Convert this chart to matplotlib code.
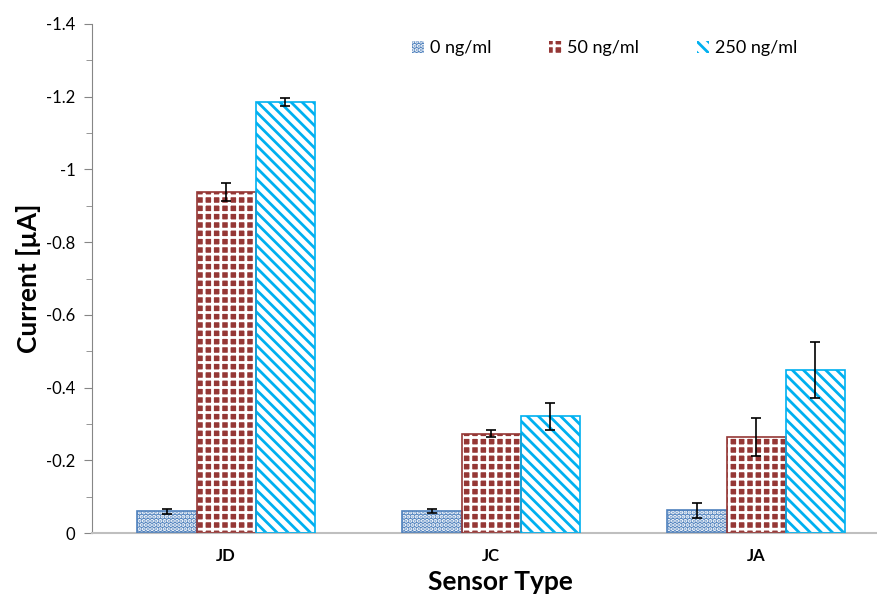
import numpy as np
import matplotlib
matplotlib.use("Agg")
import matplotlib.pyplot as plt
from matplotlib.patches import Patch

plt.rcParams['font.family'] = ['Lato', 'DejaVu Sans']
plt.rcParams['hatch.linewidth'] = 2.0

# data (currents in uA, plotted on an inverted axis)
sensors = ["JD", "JC", "JA"]
series = ["0 ng/ml", "50 ng/ml", "250 ng/ml"]
values = {
    "0 ng/ml": [-0.060, -0.060, -0.062],
    "50 ng/ml": [-0.938, -0.273, -0.264],
    "250 ng/ml": [-1.186, -0.321, -0.448],
}
errors = {
    "0 ng/ml": [0.007, 0.006, 0.020],
    "50 ng/ml": [0.026, 0.010, 0.053],
    "250 ng/ml": [0.011, 0.037, 0.076],
}

colors = {"0 ng/ml": "#4F81BD", "50 ng/ml": "#953735", "250 ng/ml": "#00B0F0"}
faces = {"0 ng/ml": "#4F81BD", "50 ng/ml": "#953735", "250 ng/ml": "white"}
hatch_colors = {"0 ng/ml": "white", "50 ng/ml": "white", "250 ng/ml": "#00B0F0"}
hatches = {"0 ng/ml": "....", "50 ng/ml": "++", "250 ng/ml": "\\\\\\"}

fig = plt.figure(figsize=(8.78, 6.03), dpi=100)
ax = fig.add_axes([92 / 878, 70 / 603, 786 / 878, 509 / 603])

x = np.arange(len(sensors))
w = 0.223
handles = []
for i, s in enumerate(series):
    pos = x + (i - 1) * w
    # hatch layer
    ax.bar(pos, values[s], w, color=faces[s], edgecolor=hatch_colors[s],
           hatch=hatches[s], linewidth=0, zorder=2)
    # outline
    ax.bar(pos, values[s], w, fill=False, edgecolor=colors[s], linewidth=1.2, zorder=3)
    ax.errorbar(pos, values[s], yerr=errors[s], fmt='none', ecolor='black',
                elinewidth=1.2, capsize=3.5, capthick=1.2, zorder=4)
    handles.append(Patch(facecolor=faces[s], edgecolor=hatch_colors[s],
                         hatch=hatches[s], linewidth=0, label=s))

ax.set_ylim(0, -1.4)
ax.set_xlim(-0.506, 2.46)
ax.set_yticks(np.arange(0, -1.41, -0.2))
ax.set_yticklabels(["0", "-0.2", "-0.4", "-0.6", "-0.8", "-1", "-1.2", "-1.4"])
ax.set_yticks(np.arange(-0.1, -1.41, -0.2), minor=True)
ax.set_xticks(x)
ax.set_xticklabels(sensors, fontweight='bold', fontsize=12)
ax.tick_params(axis='x', length=0, pad=11)
ax.tick_params(axis='y', which='major', length=6, color='#868686', labelsize=12, pad=6)
ax.tick_params(axis='y', which='minor', length=4, color='#868686')

for sp in ['top', 'right']:
    ax.spines[sp].set_visible(False)
ax.spines['left'].set_color('#868686')
ax.spines['bottom'].set_color('#BFBFBF')
ax.spines['bottom'].set_linewidth(1.5)

ax.set_ylabel("Current [µA]", fontsize=19, fontweight='bold', labelpad=4)
ax.set_xlabel("Sensor Type", fontsize=19, fontweight='bold')
ax.xaxis.set_label_coords(0.52, -0.072)

ax.legend(handles=handles, loc='upper center', bbox_to_anchor=(0.652, 1.0), ncol=3,
          frameon=False, fontsize=13, handlelength=0.7, handleheight=0.7,
          handletextpad=0.3, columnspacing=3.2)

fig.savefig("out.png", dpi=100)
